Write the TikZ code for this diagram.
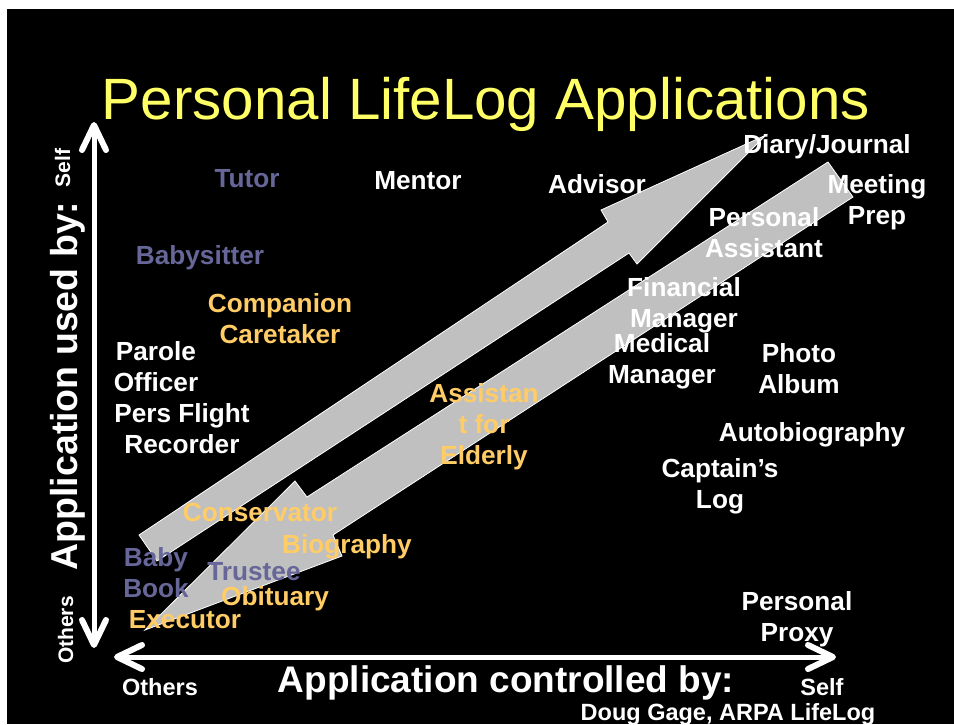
\documentclass[tikz,border=0pt]{standalone}
\usepackage{fontspec}
\setmainfont{Liberation Sans}
\definecolor{titleyellow}{HTML}{FFFF66}
\definecolor{lblorange}{HTML}{FFCC66}
\definecolor{lblpurple}{HTML}{666699}
\definecolor{arrowgray}{HTML}{C0C0C0}
\begin{document}
\begin{tikzpicture}[x=1pt,y=-1pt,
  lbl/.style={anchor=north,inner sep=0pt,align=center,font=\bfseries\fontsize{26.2}{31}\selectfont},
  wlbl/.style={lbl,text=white},
  olbl/.style={lbl,text=lblorange},
  plbl/.style={lbl,text=lblpurple},
  blockarrow/.style={fill=arrowgray,draw=white,line width=0.8pt,line join=miter},
  axisline/.style={white,line width=5pt},
  axishead/.style={white,line width=6pt,line cap=round,line join=round},
  smalllbl/.style={inner sep=0pt,text=white,font=\bfseries\fontsize{23.5}{28}\selectfont}
]
\useasboundingbox (0,0) rectangle (954,724);
\fill[white] (0,0) rectangle (954,724);
\fill[black] (7,9) rectangle (954,724);

% block arrows
\path[blockarrow] (139,535) -- (608,222) -- (601,210) -- (766,135) -- (637,264) -- (629,253) -- (157,561) -- cycle;
\path[blockarrow] (828,162) -- (853,197) -- (333,535) -- (342,556) -- (145,630) -- (295,481) -- (307,497) -- cycle;

% axes
\coordinate (vtop) at (94,125);
\coordinate (vbot) at (94,645);
\coordinate (hl) at (117,657);
\coordinate (hr) at (833,657);
\draw[axisline] (vtop) -- (vbot);
\draw[axisline] (hl) -- (hr);
\draw[axishead] (vtop) ++(-12,25) -- (vtop) -- ++(12,25);
\draw[axishead] (vbot) ++(-12,-25) -- (vbot) -- ++(12,-25);
\draw[axishead] (hl) ++(25,-12) -- (hl) -- ++(25,12);
\draw[axishead] (hr) ++(-25,-12) -- (hr) -- ++(-25,12);

% title
\node[anchor=north,inner sep=0pt,text=titleyellow,font=\fontsize{58.3}{60}\selectfont] (title) at (486,77) {Personal LifeLog Applications};

% axis labels
\node[rotate=90,anchor=base,inner sep=0pt,text=white,font=\bfseries\fontsize{37.5}{40}\selectfont] (yaxis) at (77,386) {Application used by:};
\node[rotate=90,anchor=base,inner sep=0pt,text=white,font=\bfseries\fontsize{21}{24}\selectfont] (yself) at (70,168) {Self};
\node[rotate=90,anchor=base,inner sep=0pt,text=white,font=\bfseries\fontsize{21}{24}\selectfont] (yothers) at (73,630) {Others};
\node[anchor=north,inner sep=0pt,text=white,font=\bfseries\fontsize{37}{40}\selectfont] (xaxis) at (506,665) {Application controlled by:};
\node[smalllbl,anchor=north] (xothers) at (160,678) {Others};
\node[smalllbl,anchor=north] (xself) at (822,678) {Self};
\node[smalllbl,anchor=north] (credit) at (728,703) {Doug Gage, ARPA LifeLog};

% application labels
\node[plbl] (tutor) at (247,169) {Tutor};
\node[wlbl] (mentor) at (418,171) {Mentor};
\node[wlbl] (advisor) at (597,174) {Advisor};
\node[wlbl] (diary) at (827,134) {Diary/Journal};
\node[wlbl] (meeting) at (877,174) {Meeting\\Prep};
\node[wlbl] (persassist) at (764,207) {Personal\\Assistant};
\node[plbl] (babysitter) at (200,245) {Babysitter};
\node[olbl] (companion) at (280,293) {Companion\\Caretaker};
\node[wlbl] (financial) at (684,277) {Financial\\Manager};
\node[wlbl] (medical) at (662,333) {Medical\\Manager};
\node[wlbl] (photo) at (799,343) {Photo\\Album};
\node[wlbl] (parole) at (156,341) {Parole\\Officer};
\node[wlbl] (persflight) at (182,403) {Pers Flight\\Recorder};
\node[olbl] (elderly) at (484,383) {Assistan\\t for\\Elderly};
\node[wlbl] (autobio) at (812,422) {Autobiography};
\node[wlbl] (captain) at (720,458) {Captain’s\\Log};
\node[olbl] (conservator) at (260,503) {Conservator};
\node[olbl] (biography) at (347,534) {Biography};
\node[plbl] (baby) at (156,547) {Baby\\Book};
\node[plbl] (trustee) at (254,562) {Trustee};
\node[olbl] (obituary) at (275,586) {Obituary};
\node[olbl] (executor) at (185,610) {Executor};
\node[wlbl] (proxy) at (797,591) {Personal\\Proxy};
\end{tikzpicture}
\end{document}
